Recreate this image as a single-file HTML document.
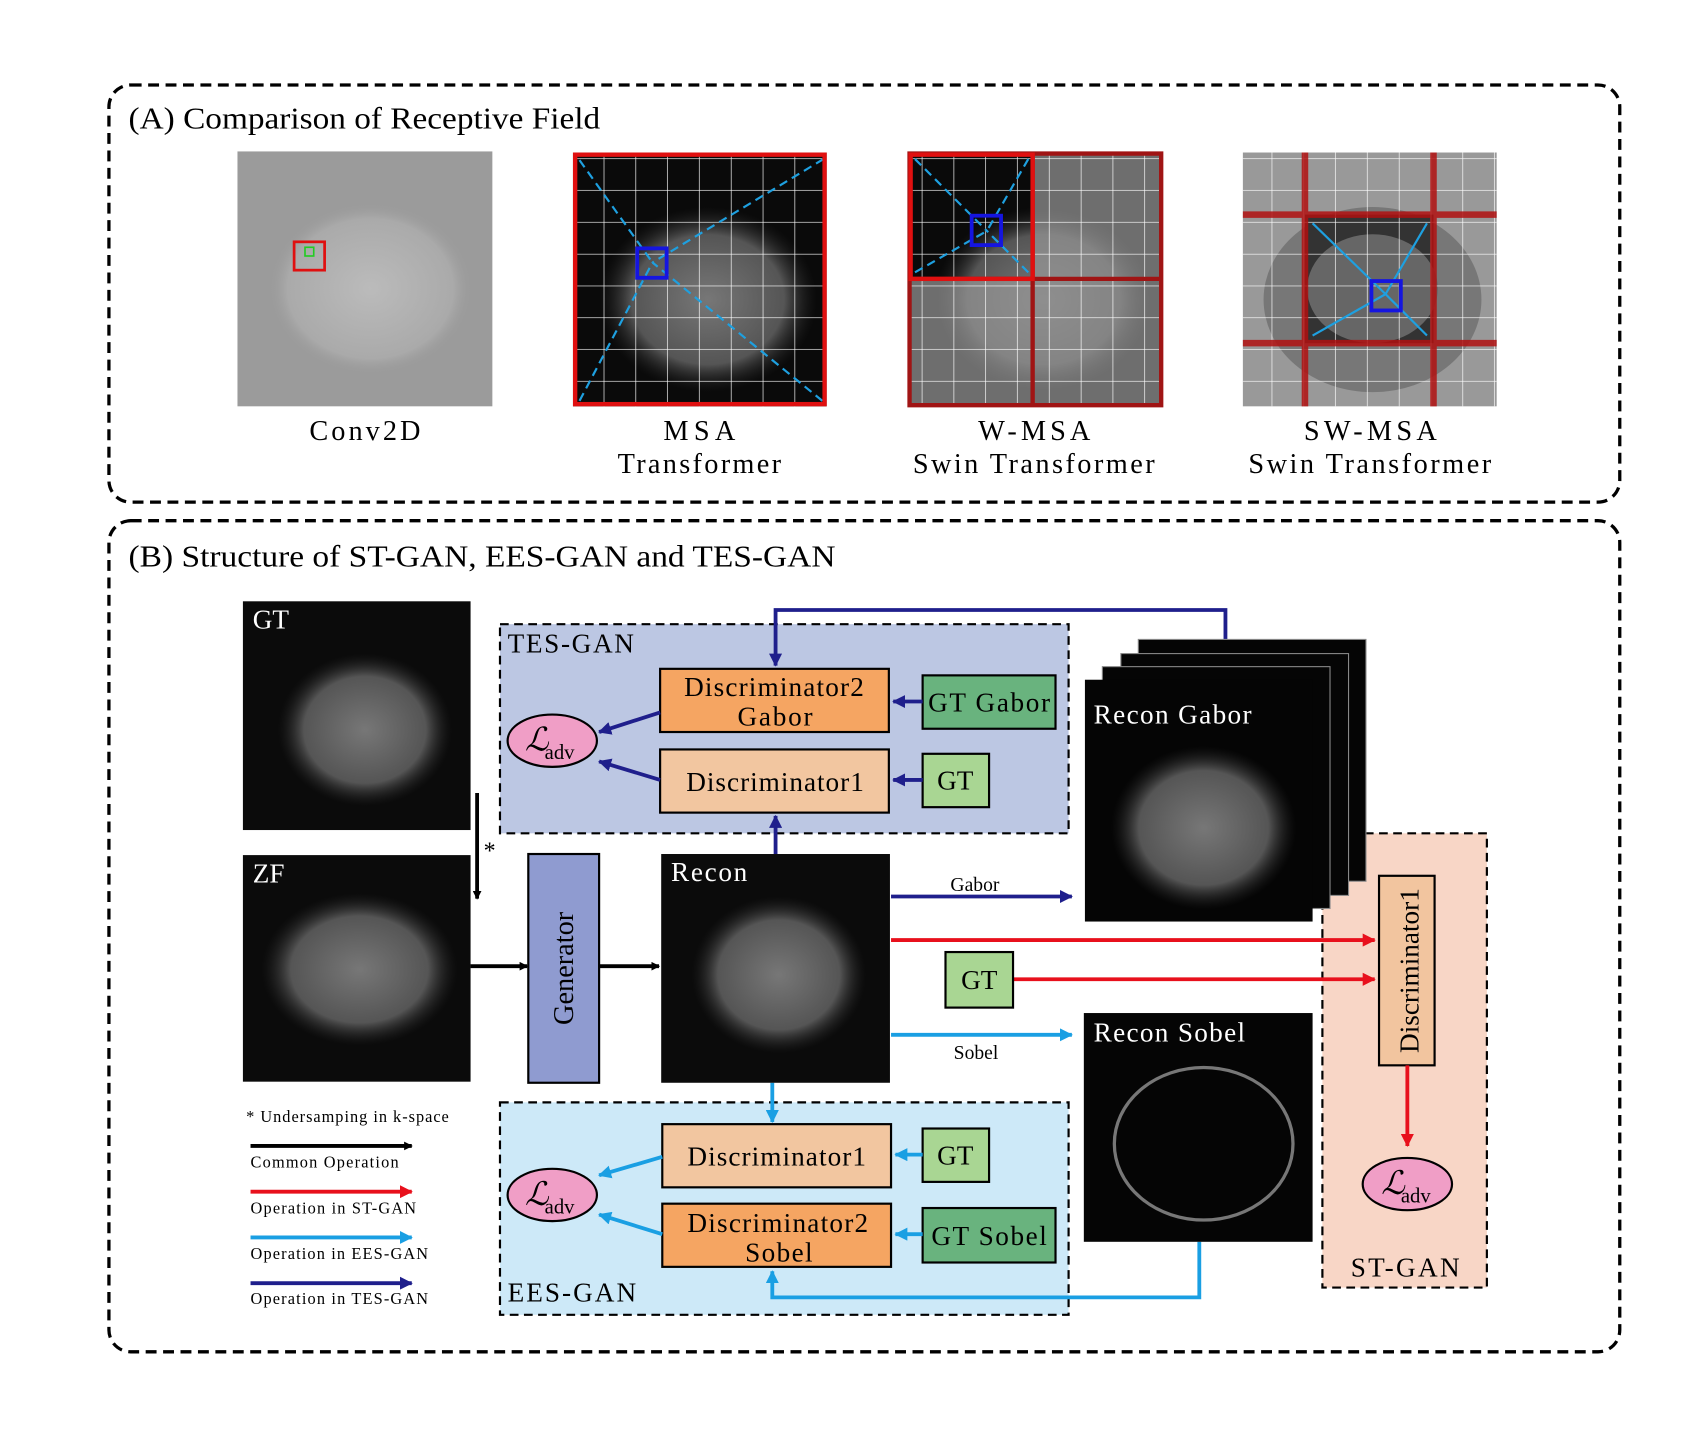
<!DOCTYPE html>
<html><head><meta charset="utf-8"><style>
html,body{margin:0;padding:0;background:#fff}
svg{display:block}
text{font-family:"Liberation Serif",serif}
</style></head><body>
<svg width="1708" height="1432" viewBox="0 0 1568 1314.6" xmlns="http://www.w3.org/2000/svg">
<defs>
<marker id="ak" markerWidth="8" markerHeight="8" refX="7" refY="4" orient="auto" markerUnits="userSpaceOnUse" viewBox="0 0 8 8"><path d="M0,0 L8,4 L0,8 z" fill="#000"/></marker>
<marker id="ar" markerWidth="12" markerHeight="12" refX="11" refY="6" orient="auto" markerUnits="userSpaceOnUse" viewBox="0 0 12 12"><path d="M0,0 L12,6 L0,12 z" fill="#e8101c"/></marker>
<marker id="ab" markerWidth="12" markerHeight="12" refX="11" refY="6" orient="auto" markerUnits="userSpaceOnUse" viewBox="0 0 12 12"><path d="M0,0 L12,6 L0,12 z" fill="#1a9fe3"/></marker>
<marker id="ad" markerWidth="12" markerHeight="12" refX="11" refY="6" orient="auto" markerUnits="userSpaceOnUse" viewBox="0 0 12 12"><path d="M0,0 L12,6 L0,12 z" fill="#1f1f8c"/></marker>
<radialGradient id="head" cx="0.5" cy="0.5" r="0.5"><stop offset="0" stop-color="#777"/><stop offset="0.7" stop-color="#555"/><stop offset="1" stop-color="#222" stop-opacity="0"/></radialGradient>
<radialGradient id="headg" cx="0.5" cy="0.5" r="0.5"><stop offset="0" stop-color="#bbb"/><stop offset="0.8" stop-color="#aaa"/><stop offset="1" stop-color="#999" stop-opacity="0"/></radialGradient>
<pattern id="grid" width="29.2" height="29.2" patternUnits="userSpaceOnUse"><path d="M29.2,0 V29.2 H0" fill="none" stroke="#fff" stroke-width="1.2"/></pattern>
</defs>

<!-- Panel A -->
<rect x="100" y="78" width="1387" height="383" rx="20" fill="none" stroke="#000" stroke-width="3" stroke-dasharray="10,6"/>
<text x="118" y="118" font-size="28" textLength="433" lengthAdjust="spacingAndGlyphs">(A) Comparison of Receptive Field</text>

<!-- Conv2D -->
<rect x="218" y="139" width="234" height="234" fill="#9b9b9b"/>
<ellipse cx="340" cy="265" rx="95" ry="80" fill="url(#headg)"/>
<rect x="270" y="222" width="28" height="26" fill="none" stroke="#e01010" stroke-width="2.5"/>
<rect x="280" y="227" width="8" height="8" fill="none" stroke="#2c2" stroke-width="1.5"/>
<text x="284" y="404" font-size="26" textLength="102">Conv2D</text>

<!-- MSA -->
<rect x="526" y="140" width="233" height="233" fill="#0a0a0a"/>
<ellipse cx="650" cy="275" rx="100" ry="85" fill="url(#head)"/>
<rect x="526" y="140" width="233" height="233" fill="url(#grid)"/>
<path d="M532,147 L599,241 M756,146 L599,241 M532,368 L599,241 M755,368 L599,241" stroke="#1ea0e0" stroke-width="2" stroke-dasharray="8,5"/>
<rect x="585" y="228" width="27" height="27" fill="none" stroke="#1515e0" stroke-width="3.5"/>
<rect x="528" y="142" width="229" height="229" fill="none" stroke="#e01010" stroke-width="4"/>
<text x="609" y="404" font-size="26" textLength="66">MSA</text>
<text x="567" y="434" font-size="26" textLength="150">Transformer</text>

<!-- W-MSA -->
<rect x="834" y="140" width="233" height="233" fill="#0a0a0a"/>
<ellipse cx="958" cy="275" rx="100" ry="85" fill="url(#head)"/>
<rect x="948" y="140" width="119" height="233" fill="#999" fill-opacity="0.7"/>
<rect x="834" y="256" width="114" height="117" fill="#999" fill-opacity="0.7"/>
<rect x="834" y="140" width="233" height="233" fill="url(#grid)"/>
<path d="M840,146 L906,212 M944,146 L906,212 M840,250 L906,212 M944,250 L906,212" stroke="#1ea0e0" stroke-width="2" stroke-dasharray="8,5"/>
<rect x="892" y="198" width="27" height="27" fill="none" stroke="#1515e0" stroke-width="3.5"/>
<path d="M835,141 H1066 V372 H835 Z M948,141 V372 M835,256 H1066" fill="none" stroke="#a01414" stroke-width="4"/>
<rect x="836" y="142" width="112" height="114" fill="none" stroke="#e01010" stroke-width="4"/>
<text x="898" y="404" font-size="26" textLength="103">W-MSA</text>
<text x="838" y="434" font-size="26" textLength="222">Swin Transformer</text>

<!-- SW-MSA -->
<rect x="1141" y="140" width="233" height="233" fill="#999"/>
<ellipse cx="1260" cy="275" rx="100" ry="85" fill="#777"/>
<rect x="1198" y="197" width="118" height="118" fill="#333"/>
<ellipse cx="1260" cy="265" rx="60" ry="50" fill="#666"/>
<rect x="1141" y="140" width="233" height="233" fill="url(#grid)"/>
<path d="M1141,197 H1374 M1141,315 H1374 M1198,140 V373 M1316,140 V373" stroke="#b01010" stroke-width="6" stroke-opacity="0.85"/>
<path d="M1205,205 L1272,270 M1310,205 L1272,270 M1205,308 L1272,270 M1310,308 L1272,270" stroke="#1ea0e0" stroke-width="2"/>
<rect x="1259" y="258" width="27" height="27" fill="none" stroke="#1515e0" stroke-width="3.5"/>
<text x="1197" y="404" font-size="26" textLength="122">SW-MSA</text>
<text x="1146" y="434" font-size="26" textLength="223">Swin Transformer</text>

<!-- Panel B -->
<rect x="100" y="478" width="1387" height="763" rx="20" fill="none" stroke="#000" stroke-width="3" stroke-dasharray="10,6"/>
<text x="118" y="520" font-size="28" textLength="649" lengthAdjust="spacingAndGlyphs">(B) Structure of ST-GAN, EES-GAN and TES-GAN</text>

<!-- ST-GAN box -->
<rect x="1214" y="765" width="151" height="417" fill="#f8d6c6" stroke="#000" stroke-width="2" stroke-dasharray="8,5"/>
<text x="1240" y="1172" font-size="25" textLength="100">ST-GAN</text>
<rect x="1266" y="804" width="51" height="174" fill="#f2c59f" stroke="#000" stroke-width="2"/>
<text transform="translate(1302,891) rotate(-90)" font-size="25" text-anchor="middle">Discriminator1</text>
<line x1="1292" y1="978" x2="1292" y2="1052" stroke="#e8101c" stroke-width="3.5" marker-end="url(#ar)"/>
<ellipse cx="1292" cy="1087" rx="41" ry="24" fill="#f09ec6" stroke="#000" stroke-width="2"/>
<text x="1268" y="1096" font-size="30" font-style="italic">ℒ</text><text x="1286" y="1104" font-size="19">adv</text>

<!-- TES-GAN -->
<rect x="459" y="573" width="522" height="192" fill="#bcc7e3" stroke="#000" stroke-width="2" stroke-dasharray="8,5"/>
<text x="466" y="599" font-size="25" textLength="116">TES-GAN</text>
<rect x="606" y="614" width="210" height="58" fill="#f5a562" stroke="#000" stroke-width="2"/>
<text x="628" y="639" font-size="25" textLength="165">Discriminator2</text>
<text x="677" y="666" font-size="25" textLength="69">Gabor</text>
<rect x="847" y="620" width="122" height="49" fill="#69b37e" stroke="#000" stroke-width="2"/>
<text x="852" y="653" font-size="25" textLength="112">GT Gabor</text>
<rect x="606" y="688" width="210" height="58" fill="#f2c6a0" stroke="#000" stroke-width="2"/>
<text x="630" y="726" font-size="25" textLength="163">Discriminator1</text>
<rect x="847" y="692" width="61" height="49" fill="#a9d693" stroke="#000" stroke-width="2"/>
<text x="877" y="725" font-size="25" text-anchor="middle">GT</text>
<ellipse cx="507" cy="680" rx="41" ry="24" fill="#f09ec6" stroke="#000" stroke-width="2"/>
<text x="482" y="689" font-size="30" font-style="italic">ℒ</text><text x="500" y="697" font-size="19">adv</text>
<g stroke="#1f1f8c" stroke-width="3.5" fill="none">
<line x1="606" y1="654" x2="550" y2="672" marker-end="url(#ad)"/>
<line x1="606" y1="716" x2="550" y2="699" marker-end="url(#ad)"/>
<line x1="847" y1="644" x2="820" y2="644" marker-end="url(#ad)"/>
<line x1="847" y1="716" x2="820" y2="716" marker-end="url(#ad)"/>
<line x1="712" y1="784" x2="712" y2="749" marker-end="url(#ad)"/>
<polyline points="1125,587 1125,560 712,560 712,611" marker-end="url(#ad)"/>
<line x1="818" y1="823" x2="984" y2="823" marker-end="url(#ad)"/>
</g>
<text x="895" y="818" font-size="18" text-anchor="middle">Gabor</text>

<!-- EES-GAN -->
<rect x="459" y="1012" width="522" height="195" fill="#cde9f8" stroke="#000" stroke-width="2" stroke-dasharray="8,5"/>
<text x="466" y="1195" font-size="25" textLength="118">EES-GAN</text>
<rect x="608" y="1032" width="210" height="58" fill="#f2c6a0" stroke="#000" stroke-width="2"/>
<text x="631" y="1070" font-size="25" textLength="164">Discriminator1</text>
<rect x="847" y="1036" width="61" height="49" fill="#a9d693" stroke="#000" stroke-width="2"/>
<text x="877" y="1069" font-size="25" text-anchor="middle">GT</text>
<rect x="608" y="1105" width="210" height="58" fill="#f5a562" stroke="#000" stroke-width="2"/>
<text x="631" y="1131" font-size="25" textLength="166">Discriminator2</text>
<text x="684" y="1158" font-size="25" textLength="62">Sobel</text>
<rect x="847" y="1109" width="122" height="50" fill="#69b37e" stroke="#000" stroke-width="2"/>
<text x="855" y="1143" font-size="25" textLength="106">GT Sobel</text>
<ellipse cx="507" cy="1097" rx="41" ry="24" fill="#f09ec6" stroke="#000" stroke-width="2"/>
<text x="482" y="1106" font-size="30" font-style="italic">ℒ</text><text x="500" y="1114" font-size="19">adv</text>
<g stroke="#1a9fe3" stroke-width="3.5" fill="none">
<line x1="608" y1="1062" x2="550" y2="1079" marker-end="url(#ab)"/>
<line x1="608" y1="1133" x2="550" y2="1115" marker-end="url(#ab)"/>
<line x1="847" y1="1060" x2="822" y2="1060" marker-end="url(#ab)"/>
<line x1="847" y1="1133" x2="822" y2="1133" marker-end="url(#ab)"/>
<line x1="709" y1="994" x2="709" y2="1030" marker-end="url(#ab)"/>
<polyline points="1101,1140 1101,1191 709,1191 709,1167" marker-end="url(#ab)"/>
<line x1="818" y1="950" x2="984" y2="950" marker-end="url(#ab)"/>
</g>
<text x="896" y="972" font-size="18" text-anchor="middle">Sobel</text>

<!-- images -->
<rect x="223" y="552" width="209" height="210" fill="#0b0b0b"/>
<ellipse cx="335" cy="670" rx="80" ry="70" fill="url(#head)"/>
<text x="232" y="577" font-size="25" fill="#fff">GT</text>
<rect x="223" y="785" width="209" height="208" fill="#0b0b0b"/>
<ellipse cx="330" cy="890" rx="90" ry="70" fill="url(#head)"/>
<text x="232" y="810" font-size="25" fill="#fff">ZF</text>
<rect x="607" y="784" width="210" height="210" fill="#0b0b0b"/>
<ellipse cx="715" cy="895" rx="80" ry="72" fill="url(#head)"/>
<text x="616" y="809" font-size="25" fill="#fff" textLength="70">Recon</text>

<g stroke="#888" stroke-width="1">
<rect x="1045" y="587" width="209" height="222" fill="#050505"/>
<rect x="1029" y="600" width="209" height="222" fill="#050505"/>
<rect x="1012" y="612" width="209" height="222" fill="#050505"/>
</g>
<rect x="996" y="624" width="209" height="222" fill="#050505"/>
<ellipse cx="1105" cy="760" rx="85" ry="75" fill="url(#head)"/>
<text x="1004" y="664" font-size="25" fill="#fff" textLength="145">Recon Gabor</text>
<rect x="995" y="930" width="210" height="210" fill="#050505"/>
<ellipse cx="1105" cy="1050" rx="82" ry="70" fill="none" stroke="#777" stroke-width="3"/>
<text x="1004" y="956" font-size="25" fill="#fff" textLength="139">Recon Sobel</text>

<!-- generator -->
<rect x="485" y="784" width="65" height="210" fill="#8f9bd0" stroke="#000" stroke-width="2"/>
<text transform="translate(526,889) rotate(-90)" font-size="26" text-anchor="middle">Generator</text>
<g stroke="#000" stroke-width="3.5">
<line x1="438" y1="728" x2="438" y2="825" marker-end="url(#ak)"/>
<line x1="432" y1="887" x2="484" y2="887" marker-end="url(#ak)"/>
<line x1="550" y1="887" x2="605" y2="887" marker-end="url(#ak)"/>
</g>
<text x="444" y="788" font-size="22">*</text>

<!-- red -->
<g stroke="#e8101c" stroke-width="3.5">
<line x1="818" y1="863" x2="1262" y2="863" marker-end="url(#ar)"/>
<line x1="930" y1="899" x2="1262" y2="899" marker-end="url(#ar)"/>
</g>
<rect x="868" y="874" width="62" height="51" fill="#a9d693" stroke="#000" stroke-width="2"/>
<text x="899" y="908" font-size="25" text-anchor="middle">GT</text>

<!-- legend -->
<text x="226" y="1030" font-size="15" textLength="186">* Undersamping in k-space</text>
<line x1="230" y1="1052" x2="378" y2="1052" stroke="#000" stroke-width="3.5" marker-end="url(#ak)"/>
<text x="230" y="1072" font-size="15" textLength="136">Common Operation</text>
<line x1="230" y1="1094" x2="378" y2="1094" stroke="#e8101c" stroke-width="3.5" marker-end="url(#ar)"/>
<text x="230" y="1114" font-size="15" textLength="152">Operation in ST-GAN</text>
<line x1="230" y1="1136" x2="378" y2="1136" stroke="#1a9fe3" stroke-width="3.5" marker-end="url(#ab)"/>
<text x="230" y="1156" font-size="15" textLength="163">Operation in EES-GAN</text>
<line x1="230" y1="1178" x2="378" y2="1178" stroke="#1f1f8c" stroke-width="3.5" marker-end="url(#ad)"/>
<text x="230" y="1197" font-size="15" textLength="163">Operation in TES-GAN</text>
</svg>
</body></html>
